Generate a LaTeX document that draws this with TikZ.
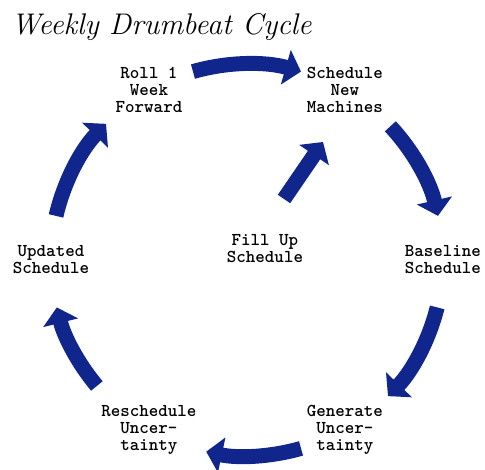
\documentclass[tikz,border=0pt]{standalone}
\usepackage{fontspec}
\usetikzlibrary{arrows.meta}
\definecolor{drumblue}{RGB}{17,38,140}
\tikzset{
  cyc/.style={line width=8.5pt,draw=drumblue,-{Triangle[width=20pt,length=9pt]}},
  stage/.style={align=center,font=\ttfamily\bfseries\fontsize{10.3}{9.7}\selectfont}
}
\begin{document}
\begin{tikzpicture}[x=0.02cm,y=0.02cm]
                \useasboundingbox (0,0) rectangle (485,470);
                \node [anchor=base west,inner sep=0pt,font=\itshape\fontsize{17}{20}\selectfont] (title) at (11,435) {Weekly Drumbeat Cycle};
                \coordinate (c) at (247,210);
                \node [stage] (roll) at (149,380) {Roll 1\\Week\\Forward};
                \node [stage] (sched) at (345,380) {Schedule\\New\\Machines};
                \node [stage] (base) at (443,210) {Baseline\\Schedule};
                \node [stage] (gen) at (345,40) {Generate\\Uncer-\\tainty};
                \node [stage] (resched) at (149,40) {Reschedule\\Uncer-\\tainty};
                \node [stage] (upd) at (51,210) {Updated\\Schedule};
                \node [stage] (fillup) at (265,221) {Fill Up\\Schedule};
                \draw [cyc] ([shift={(106:196)}]c) arc [start angle=106,end angle=74,radius=196];
                \draw [cyc] ([shift={(43:196)}]c) arc [start angle=43,end angle=13,radius=196];
                \draw [cyc] ([shift={(-14:196)}]c) arc [start angle=-14,end angle=-44,radius=196];
                \draw [cyc] ([shift={(-74:196)}]c) arc [start angle=-74,end angle=-102,radius=196];
                \draw [cyc] ([shift={(220:196)}]c) arc [start angle=220,end angle=194,radius=196];
                \draw [cyc] ([shift={(167:196)}]c) arc [start angle=167,end angle=136,radius=196];
                \draw [cyc] ([shift={(19,50)}]fillup.center) -- ([shift={(58,107)}]fillup.center);
            \end{tikzpicture}
\end{document}
